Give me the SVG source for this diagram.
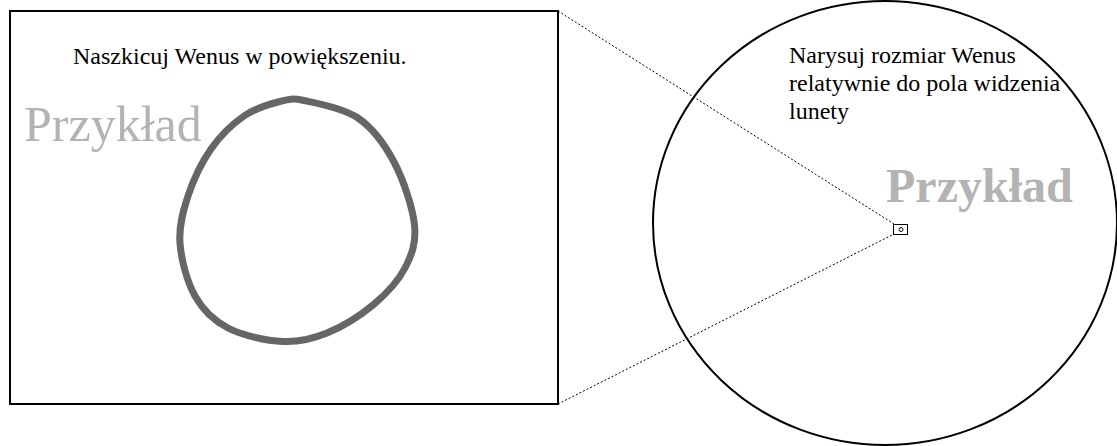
<svg xmlns="http://www.w3.org/2000/svg" width="1117" height="446" viewBox="0 0 1117 446">
<style>
.t{font-family:"Liberation Serif","Times New Roman",serif;fill:#000}
.g{font-family:"Liberation Serif","Times New Roman",serif;fill:#b3b3b3}
.dash{stroke:#000;stroke-width:1;stroke-dasharray:2,2;fill:none}
</style>
<rect width="1117" height="446" fill="#fff"/>
<g id="panel">
<rect x="10" y="11" width="548" height="393" fill="none" stroke="#000" stroke-width="2"/>
<text class="t" x="73" y="64" font-size="24">Naszkicuj Wenus w powiększeniu.</text>
<text class="g" x="24" y="141" font-size="50">Przykład</text>
</g>
<g id="venus">
<path d="M304,100.5 C317.3,103.2 343,107.8 358,118 C373,128.3 384.6,144.2 394,162 C403.4,179.8 412.7,207.3 414.5,225 C416.3,242.7 411.9,254.7 405,268 C398.1,281.3 386,294.2 373,305 C360,315.8 342,326.9 327,333 C312,339.1 299.5,342.3 283,341.5 C266.5,340.7 242.7,335.6 228,328 C213.3,320.4 203,310.2 195,296 C187,281.8 181.2,259.7 180,243 C178.8,226.3 182.8,211.7 188,196 C193.2,180.3 201.7,162.3 211,149 C220.3,135.7 232.8,123.8 244,116 C255.2,108.2 268,104.6 278,102 C288,99.4 290.7,97.8 304,100.5 Z" fill="none" stroke="#666" stroke-width="7"/>
</g>
<g id="field">
<ellipse cx="885" cy="223" rx="232" ry="222" fill="none" stroke="#000" stroke-width="2"/>
<text class="t" font-size="24"><tspan x="789" y="63">Narysuj rozmiar Wenus</tspan><tspan x="789" y="91">relatywnie do pola widzenia</tspan><tspan x="789" y="119">lunety</tspan></text>
<text class="g" x="886" y="202" font-size="48" font-weight="bold">Przykład</text>
</g>
<g id="connectors">
<line class="dash" x1="558" y1="11" x2="894" y2="224"/>
<line class="dash" x1="558" y1="404" x2="894" y2="234"/>
</g>
<g id="small-venus">
<rect x="893.5" y="224.5" width="14" height="10" fill="#fff" stroke="#000" stroke-width="1"/>
<circle cx="901" cy="229.5" r="2" fill="none" stroke="#000" stroke-width="1"/>
</g>
</svg>
